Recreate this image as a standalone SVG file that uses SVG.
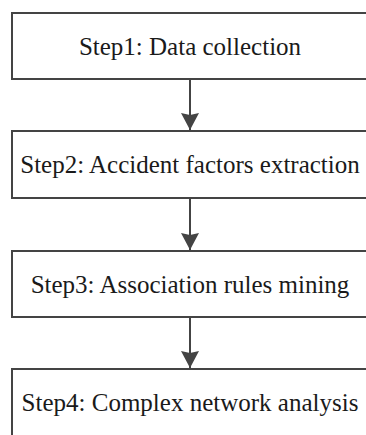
<svg xmlns="http://www.w3.org/2000/svg" width="366" height="435" viewBox="0 0 366 435">
<defs>
<style>
.box{fill:#fff;stroke:#444;stroke-width:2}
.lbl{font-family:'Liberation Serif','Times New Roman',Times,serif;font-size:25px;fill:#1a1a1a;text-anchor:middle}
.conn{stroke:#444;stroke-width:2;fill:none}
</style>
<marker id="ah" viewBox="0 0 17 18" refX="17" refY="9" markerWidth="17" markerHeight="18" markerUnits="userSpaceOnUse" orient="auto">
<path d="M0,0 L17,9 L0,18 L2,9 Z" fill="#444"/>
</marker>
</defs>
<rect width="366" height="435" fill="#fff"/>
<g id="connectors">
<line class="conn" x1="190" y1="79" x2="190" y2="130" marker-end="url(#ah)"/>
<line class="conn" x1="190" y1="198" x2="190" y2="250" marker-end="url(#ah)"/>
<line class="conn" x1="190" y1="317" x2="190" y2="368" marker-end="url(#ah)"/>
</g>
<g id="step1">
<rect class="box" x="12" y="13" width="356" height="66"/>
<text class="lbl" x="190" y="55" font-family="Liberation Serif">Step1: Data collection</text>
</g>
<g id="step2">
<rect class="box" x="12" y="131" width="356" height="67"/>
<text class="lbl" x="190" y="173" font-family="Liberation Serif">Step2: Accident factors extraction</text>
</g>
<g id="step3">
<rect class="box" x="12" y="251" width="356" height="66"/>
<text class="lbl" x="190" y="293" font-family="Liberation Serif">Step3: Association rules mining</text>
</g>
<g id="step4">
<rect class="box" x="12" y="369" width="356" height="68"/>
<text class="lbl" x="190" y="411" font-family="Liberation Serif">Step4: Complex network analysis</text>
</g>
</svg>
